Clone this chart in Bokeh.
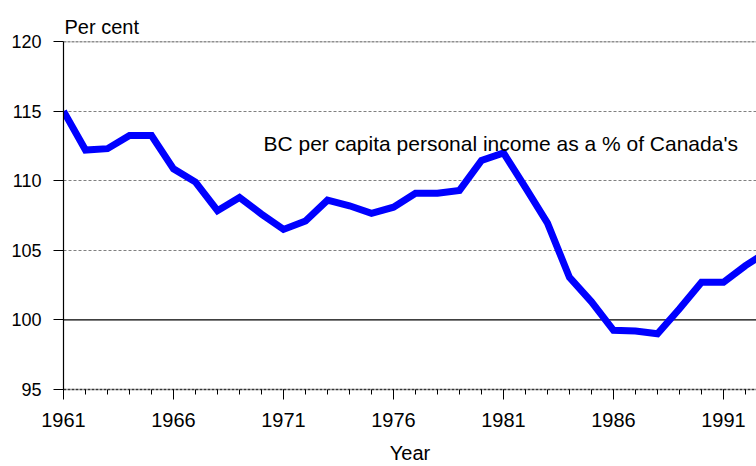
from bokeh.plotting import figure
from bokeh.models import Range1d, FixedTicker, Label, Span, Title
from bokeh.embed import file_html
from bokeh.resources import INLINE

years = list(range(1961, 1994))
bc_pct = [115.0, 112.2, 112.3, 113.25, 113.25, 110.85, 109.9, 107.85, 108.8, 107.6,
          106.5, 107.1, 108.6, 108.2, 107.65, 108.1, 109.1, 109.1, 109.3, 111.45,
          112.0, 109.5, 106.95, 103.05, 101.3, 99.25, 99.2, 99.0, 100.8, 102.7,
          102.7, 103.9, 104.9]
x_major = [1961, 1966, 1971, 1976, 1981, 1986, 1991]
y_ticks = [95, 100, 105, 110, 115, 120]
dashed_grid = [105, 110, 115]
top_line = 120
base_line = 100
annotation = "BC per capita personal income as a % of Canada's"
y_title = "Per cent"
x_title = "Year"

FONT = "Liberation Sans"

p = figure(width=756, height=466, output_backend="svg", toolbar_location=None,
           x_range=Range1d(1961, 1992.5), y_range=Range1d(95, 120),
           min_border_left=63, min_border_right=0, min_border_top=41, min_border_bottom=77)
p.outline_line_color = None
p.background_fill_color = "white"

p.title = Title(text=y_title, align="left", text_font=FONT, text_font_size="20px",
                text_font_style="normal", text_color="black", offset=1, standoff=8)

# grid
p.xgrid.grid_line_color = None
p.ygrid.ticker = FixedTicker(ticks=dashed_grid)
p.ygrid.grid_line_color = "#808080"
p.ygrid.grid_line_dash = "3 2"
p.ygrid.grid_line_width = 1

p.add_layout(Span(location=top_line, dimension="width", line_color="#222222",
                  line_dash="3 1", line_width=1.6, level="underlay"))
p.add_layout(Span(location=base_line, dimension="width", line_color="black",
                  line_width=1.2, level="underlay"))

# x axis
xa = p.xaxis[0]
xa.ticker = FixedTicker(ticks=x_major, minor_ticks=years)
xa.axis_line_color = "#333333"
xa.axis_line_dash = "3 1"
xa.axis_line_width = 1.5
xa.major_tick_out = 10
xa.major_tick_in = 0
xa.minor_tick_out = 5
xa.minor_tick_in = 0
xa.major_tick_line_color = "black"
xa.minor_tick_line_color = "black"
xa.major_label_text_font = FONT
xa.major_label_text_font_size = "20px"
xa.major_label_text_color = "black"
xa.major_label_standoff = 13
xa.axis_label = x_title
xa.axis_label_text_font = FONT
xa.axis_label_text_font_size = "20px"
xa.axis_label_text_font_style = "normal"
xa.axis_label_text_color = "black"
xa.axis_label_standoff = 12

# y axis
ya = p.yaxis[0]
ya.ticker = FixedTicker(ticks=y_ticks)
ya.axis_line_color = "black"
ya.axis_line_width = 1.2
ya.major_tick_out = 10
ya.major_tick_in = 0
ya.minor_tick_line_color = None
ya.major_tick_line_color = "black"
ya.major_label_text_font = FONT
ya.major_label_text_font_size = "18px"
ya.major_label_text_color = "black"
ya.major_label_standoff = 12

p.line(years, bc_pct, line_color="#0000FF", line_width=7, line_join="miter")

p.add_layout(Label(x=1970.09, y=112.65, text=annotation,
                   text_font=FONT, text_font_size="21px", text_color="black",
                   text_baseline="alphabetic"))

open("out.html", "w").write(file_html(p, INLINE))
